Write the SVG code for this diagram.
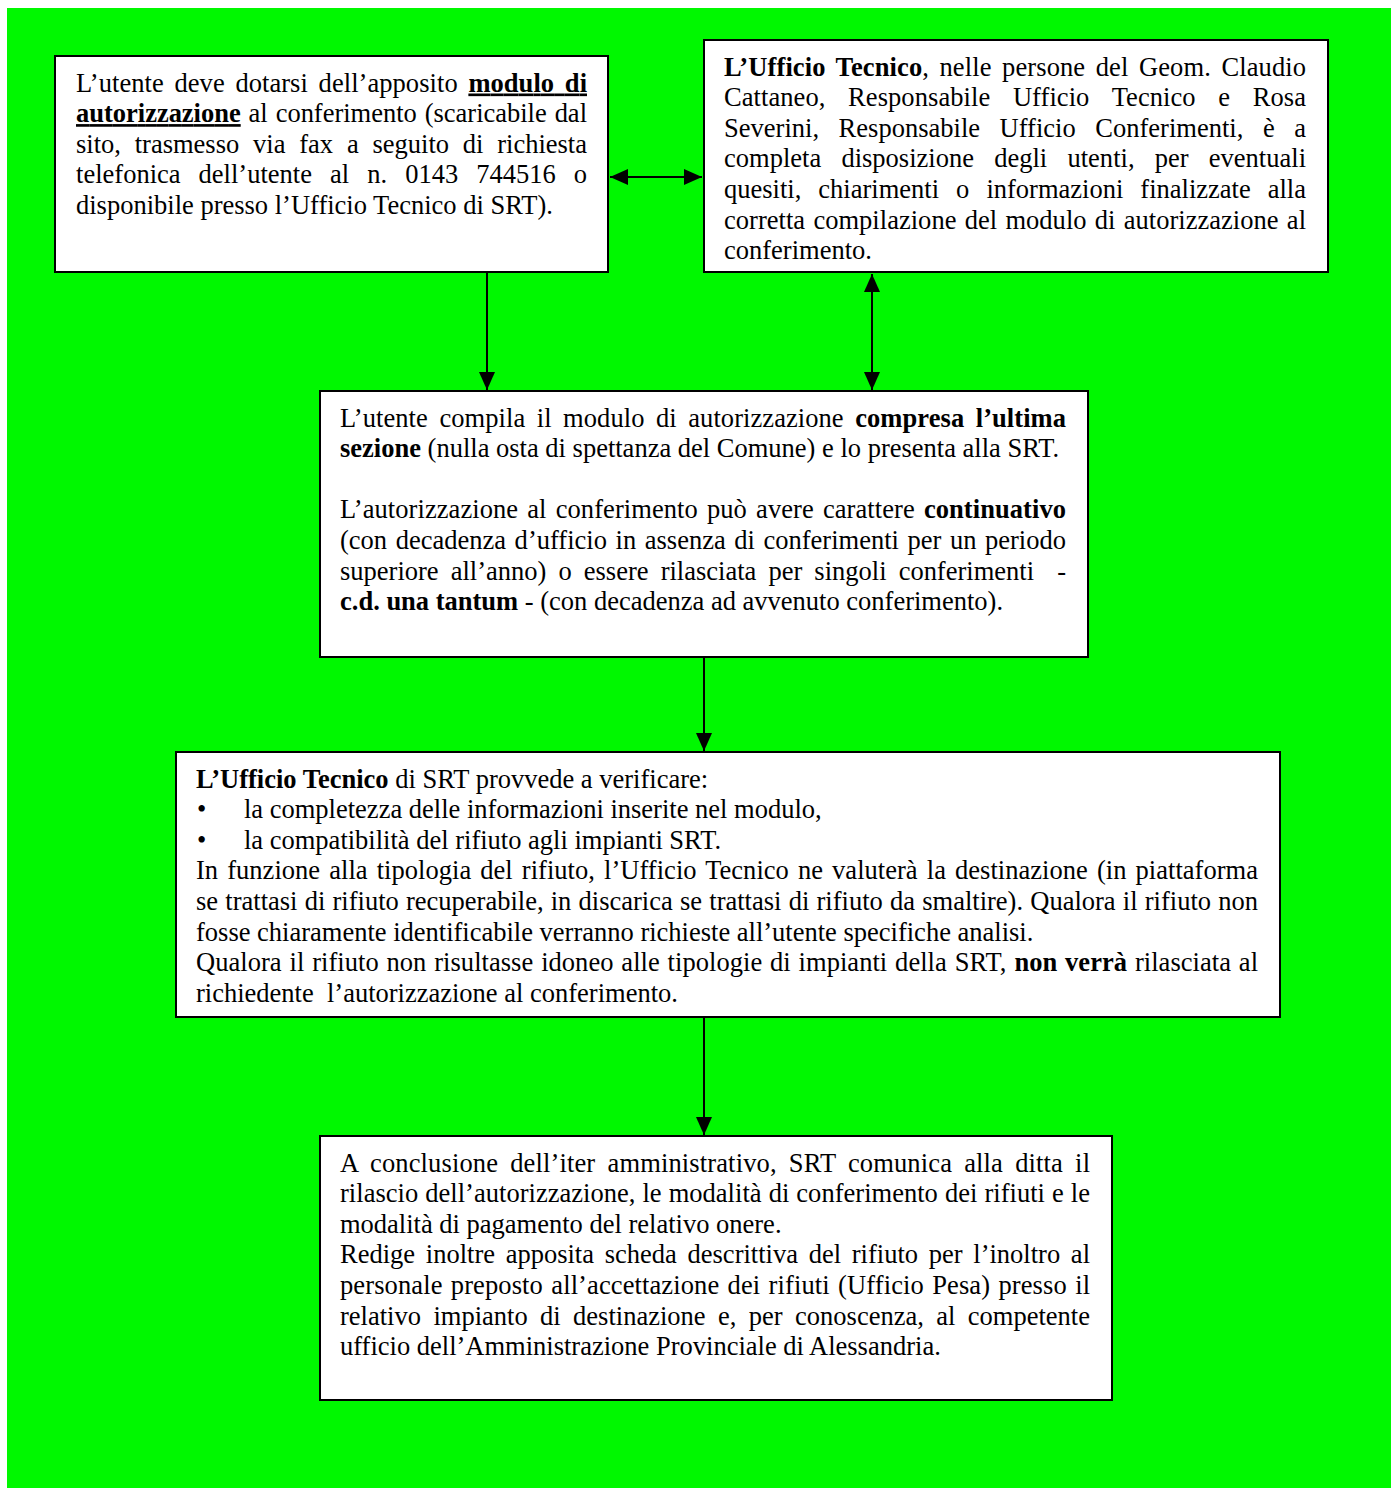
<svg xmlns="http://www.w3.org/2000/svg" width="1391" height="1488" viewBox="0 0 1391 1488">
<style>
.bg{fill:#00F800}
.box{fill:#fff;stroke:#000;stroke-width:2}
.t{font-family:"Liberation Serif","Times New Roman",serif;font-size:26.5px;fill:#000}
.b{font-weight:bold}
.u{text-decoration:underline}
.c{stroke:#000;stroke-width:2;fill:none}
</style>
<defs>
<marker id="ah" markerUnits="userSpaceOnUse" markerWidth="18" markerHeight="16" refX="18" refY="8" orient="auto-start-reverse" viewBox="0 0 18 16">
<path d="M0,0 L18,8 L0,16 z" fill="#000"/>
</marker>
</defs>
<rect width="1391" height="1488" fill="#fff"/>
<rect class="bg" x="7" y="8" width="1384" height="1480"/>

<g id="connectors">
<line class="c" x1="610" y1="177" x2="702" y2="177" marker-start="url(#ah)" marker-end="url(#ah)"/>
<line class="c" x1="487" y1="273" x2="487" y2="390" marker-end="url(#ah)"/>
<line class="c" x1="872" y1="274" x2="872" y2="390" marker-start="url(#ah)" marker-end="url(#ah)"/>
<line class="c" x1="704" y1="658" x2="704" y2="751" marker-end="url(#ah)"/>
<line class="c" x1="704" y1="1018" x2="704" y2="1135" marker-end="url(#ah)"/>
</g>

<g id="node1">
<rect class="box" x="55" y="56" width="553" height="216"/>
<text class="t" x="76" y="91.5" word-spacing="4" textLength="511" lengthAdjust="spacing">L’utente deve dotarsi dell’apposito <tspan class="b u">modulo di</tspan></text>
<text class="t" x="76" y="122.1" word-spacing="1.3" textLength="511" lengthAdjust="spacing"><tspan class="b u">autorizzazione</tspan> al conferimento (scaricabile dal</text>
<text class="t" x="76" y="152.7" word-spacing="7.2" textLength="511" lengthAdjust="spacing">sito, trasmesso via fax a seguito di richiesta</text>
<text class="t" x="76" y="183.3" word-spacing="11.4" textLength="511" lengthAdjust="spacing">telefonica dell’utente al n. 0143 744516 o</text>
<text class="t" x="76" y="213.9">disponibile presso l’Ufficio Tecnico di SRT).</text>
</g>

<g id="node2">
<rect class="box" x="704" y="40" width="624" height="232"/>
<text class="t" x="724" y="75.5" word-spacing="3.8" textLength="582" lengthAdjust="spacing"><tspan class="b">L’Ufficio Tecnico</tspan>, nelle persone del Geom. Claudio</text>
<text class="t" x="724" y="106.1" word-spacing="16" textLength="582" lengthAdjust="spacing">Cattaneo, Responsabile Ufficio Tecnico e Rosa</text>
<text class="t" x="724" y="136.7" word-spacing="12.9" textLength="582" lengthAdjust="spacing">Severini, Responsabile Ufficio Conferimenti, è a</text>
<text class="t" x="724" y="167.3" word-spacing="13.6" textLength="582" lengthAdjust="spacing">completa disposizione degli utenti, per eventuali</text>
<text class="t" x="724" y="197.9" word-spacing="10.4" textLength="582" lengthAdjust="spacing">quesiti, chiarimenti o informazioni finalizzate alla</text>
<text class="t" x="724" y="228.5" word-spacing="1.6" textLength="582" lengthAdjust="spacing">corretta compilazione del modulo di autorizzazione al</text>
<text class="t" x="724" y="259.1">conferimento.</text>
</g>

<g id="node3">
<rect class="box" x="320" y="391" width="768" height="266"/>
<text class="t" x="340" y="426.5" word-spacing="4.8" textLength="726" lengthAdjust="spacing">L’utente compila il modulo di autorizzazione <tspan class="b">compresa l’ultima</tspan></text>
<text class="t" x="340" y="457.1"><tspan class="b">sezione</tspan> (nulla osta di spettanza del Comune) e lo presenta alla SRT.</text>
<text class="t" x="340" y="518.3" word-spacing="2.5" textLength="726" lengthAdjust="spacing">L’autorizzazione al conferimento può avere carattere <tspan class="b">continuativo</tspan></text>
<text class="t" x="340" y="548.9" word-spacing="1.9" textLength="726" lengthAdjust="spacing">(con decadenza d’ufficio in assenza di conferimenti per un periodo</text>
<text class="t" x="340" y="579.5" word-spacing="5.5" textLength="694" lengthAdjust="spacing">superiore all’anno) o essere rilasciata per singoli conferimenti</text>
<text class="t" x="1066" y="579.5" text-anchor="end">-</text>
<text class="t" x="340" y="610.1"><tspan class="b">c.d. una tantum</tspan> - (con decadenza ad avvenuto conferimento).</text>
</g>

<g id="node4">
<rect class="box" x="176" y="752" width="1104" height="265"/>
<text class="t" x="196" y="787.5"><tspan class="b">L’Ufficio Tecnico</tspan> di SRT provvede a verificare:</text>
<text class="t" x="197" y="818.1">•</text>
<text class="t" x="244" y="818.1">la completezza delle informazioni inserite nel modulo,</text>
<text class="t" x="197" y="848.7">•</text>
<text class="t" x="244" y="848.7">la compatibilità del rifiuto agli impianti SRT.</text>
<text class="t" x="196" y="879.3" word-spacing="2.4" textLength="1062" lengthAdjust="spacing">In funzione alla tipologia del rifiuto, l’Ufficio Tecnico ne valuterà la destinazione (in piattaforma</text>
<text class="t" x="196" y="909.9" word-spacing="0.6" textLength="1062" lengthAdjust="spacing">se trattasi di rifiuto recuperabile, in discarica se trattasi di rifiuto da smaltire). Qualora il rifiuto non</text>
<text class="t" x="196" y="940.5">fosse chiaramente identificabile verranno richieste all’utente specifiche analisi.</text>
<text class="t" x="196" y="971.1" word-spacing="1.2" textLength="1062" lengthAdjust="spacing">Qualora il rifiuto non risultasse idoneo alle tipologie di impianti della SRT, <tspan class="b">non verrà</tspan> rilasciata al</text>
<text class="t" x="196" y="1001.7" xml:space="preserve">richiedente  l’autorizzazione al conferimento.</text>
</g>

<g id="node5">
<rect class="box" x="320" y="1136" width="792" height="264"/>
<text class="t" x="340" y="1171.5" word-spacing="5.4" textLength="750" lengthAdjust="spacing">A conclusione dell’iter amministrativo, SRT comunica alla ditta il</text>
<text class="t" x="340" y="1202.1" word-spacing="0.4" textLength="750" lengthAdjust="spacing">rilascio dell’autorizzazione, le modalità di conferimento dei rifiuti e le</text>
<text class="t" x="340" y="1232.7">modalità di pagamento del relativo onere.</text>
<text class="t" x="340" y="1263.3" word-spacing="4.1" textLength="750" lengthAdjust="spacing">Redige inoltre apposita scheda descrittiva del rifiuto per l’inoltro al</text>
<text class="t" x="340" y="1293.9" word-spacing="1.6" textLength="750" lengthAdjust="spacing">personale preposto all’accettazione dei rifiuti (Ufficio Pesa) presso il</text>
<text class="t" x="340" y="1324.5" word-spacing="5.8" textLength="750" lengthAdjust="spacing">relativo impianto di destinazione e, per conoscenza, al competente</text>
<text class="t" x="340" y="1355.1">ufficio dell’Amministrazione Provinciale di Alessandria.</text>
</g>
</svg>
